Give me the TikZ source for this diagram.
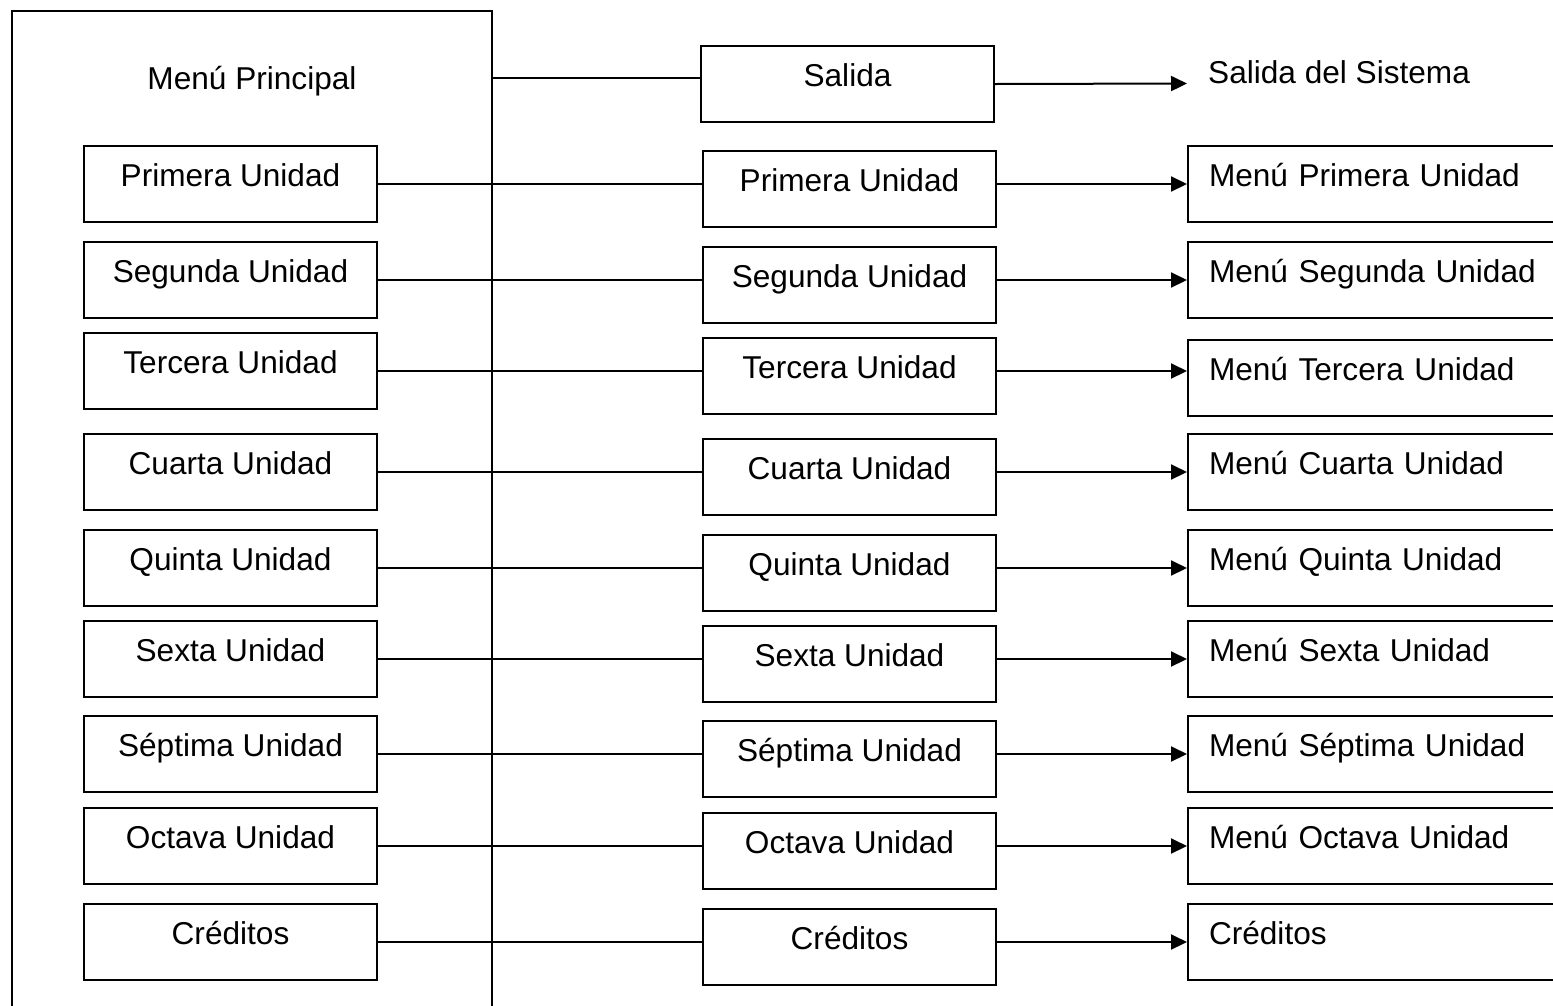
\documentclass[tikz,border=0pt]{standalone}
\usepackage{fontspec}
\setmainfont{Liberation Sans}
\usetikzlibrary{arrows.meta}

\begin{document}
\begin{tikzpicture}[x=1pt,y=-1pt,
  every node/.style={font=\fontsize{31.6}{38}\selectfont},
  box/.style={draw, line width=2pt, anchor=north west, inner sep=0pt,
    minimum width=293pt, text height=40.5pt, text depth=35.5pt},
  menubox/.style={draw, line width=2pt, anchor=north west, inner ysep=0pt,
    inner xsep=21pt, text width=420pt, align=left,
    text height=40.5pt, text depth=35.5pt},
  link/.style={line width=2pt},
  arrow/.style={line width=2pt, -{Triangle[length=16pt,width=15pt]}}]

\useasboundingbox (0,0) rectangle (1553,1005);
\clip (0,0) rectangle (1553,1005);

% main menu frame (open at the bottom edge of the page)
\node[draw, line width=2pt, anchor=north west, inner sep=0pt,
      minimum width=480pt, text height=78pt, text depth=960pt]
      (principal) at (11,10) {Menú Principal};

% exit row
\node[box] (salida) at (700,45) {Salida};
\coordinate (fin) at (1187,83.5);
\node[anchor=base west, inner sep=0pt] (sistema) at (1208,83) {Salida del Sistema};
\draw[link] ([yshift=6.5pt]salida.west -| principal.east) -- ([yshift=6.5pt]salida.west);
\draw[arrow] (salida.east) -- (fin);

% one row per unit: menu entry, screen, unit menu
\foreach \n/\txt/\ytl/\ytm/\ytr/\rtxt in {
  1/Primera Unidad/145/150/145/Menú Primera Unidad,
  2/Segunda Unidad/241/246/241/Menú Segunda Unidad,
  3/Tercera Unidad/332/337/339/Menú Tercera Unidad,
  4/Cuarta Unidad/433/438/433/Menú Cuarta Unidad,
  5/Quinta Unidad/529/534/529/Menú Quinta Unidad,
  6/Sexta Unidad/620/625/620/Menú Sexta Unidad,
  7/Séptima Unidad/715/720/715/Menú Séptima Unidad,
  8/Octava Unidad/807/812/807/Menú Octava Unidad,
  9/Créditos/903/908/903/Créditos}{
  \node[box] (l\n) at (83,\ytl) {\txt};
  \node[box] (m\n) at (702,\ytm) {\txt};
  \node[menubox] (r\n) at (1187,\ytr) {\rtxt};
  \draw[link] (l\n.east) -- (l\n.east -| m\n.west);
  \draw[arrow] (l\n.east -| m\n.east) -- (l\n.east -| r\n.west);
}
\end{tikzpicture}
\end{document}
